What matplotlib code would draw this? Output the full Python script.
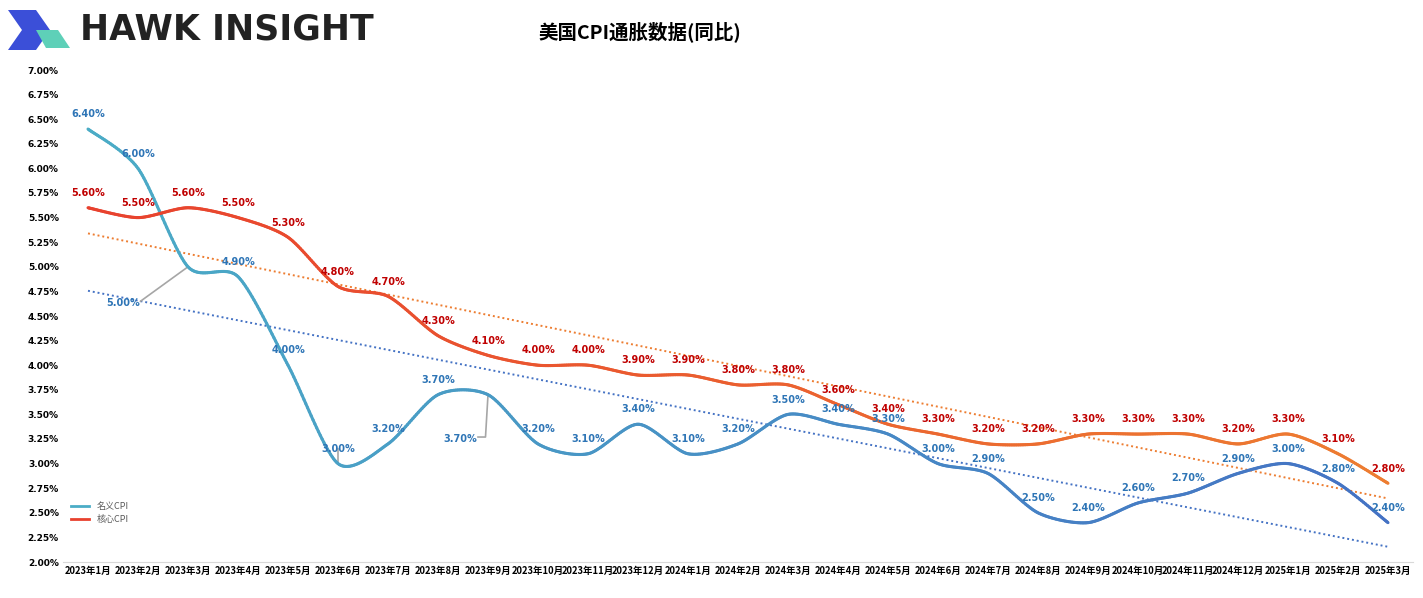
import numpy as np
import matplotlib
matplotlib.use("Agg")
import matplotlib.pyplot as plt
from matplotlib.collections import LineCollection
from matplotlib.patches import Polygon
from matplotlib.lines import Line2D
from matplotlib import font_manager as fm

cjk = None
for f in fm.findSystemFonts():
    if 'CJK' in f:
        cjk = f
        if 'Bold' in f:
            break
if cjk:
    fm.fontManager.addfont(cjk)
    cjkname = fm.FontProperties(fname=cjk).get_name()
    plt.rcParams['font.family'] = [cjkname, 'DejaVu Sans']

months = ["2023年1月","2023年2月","2023年3月","2023年4月","2023年5月","2023年6月","2023年7月","2023年8月","2023年9月",
          "2023年10月","2023年11月","2023年12月","2024年1月","2024年2月","2024年3月","2024年4月","2024年5月","2024年6月",
          "2024年7月","2024年8月","2024年9月","2024年10月","2024年11月","2024年12月","2025年1月","2025年2月","2025年3月"]
headline = [6.4,6.0,5.0,4.9,4.0,3.0,3.2,3.7,3.7,3.2,3.1,3.4,3.1,3.2,3.5,3.4,3.3,3.0,2.9,2.5,2.4,2.6,2.7,2.9,3.0,2.8,2.4]
core = [5.6,5.5,5.6,5.5,5.3,4.8,4.7,4.3,4.1,4.0,4.0,3.9,3.9,3.8,3.8,3.6,3.4,3.3,3.2,3.2,3.3,3.3,3.3,3.2,3.3,3.1,2.8]

def smooth(y, n=30, tens=0.4):
    y = np.asarray(y, float); x = np.arange(len(y), dtype=float)
    P = np.column_stack([x, y])
    P = np.vstack([P[0], P, P[-1]])
    out = []
    for i in range(1, len(P)-2):
        p0,p1,p2,p3 = P[i-1],P[i],P[i+1],P[i+2]
        m1 = (p2-p0)*tens; m2 = (p3-p1)*tens
        for s in np.linspace(0,1,n,endpoint=False):
            h00=2*s**3-3*s**2+1; h10=s**3-2*s**2+s; h01=-2*s**3+3*s**2; h11=s**3-s**2
            out.append(h00*p1+h10*m1+h01*p2+h11*m2)
    out.append(P[-2])
    return np.array(out)

def grad_line(ax, y, c1, c2, lw=2.2):
    pts = smooth(y)
    segs = np.stack([pts[:-1], pts[1:]], axis=1)
    c1 = np.array(matplotlib.colors.to_rgb(c1)); c2 = np.array(matplotlib.colors.to_rgb(c2))
    f = np.linspace(0,1,len(segs))[:,None]
    cols = c1*(1-f)+c2*f
    ax.add_collection(LineCollection(segs, colors=cols, linewidth=lw, capstyle='round', zorder=3))

fig = plt.figure(figsize=(14.23,5.98), dpi=100)
ax = fig.add_axes([63/1423, 1-562/598, 1350/1423, 492/598])
x = np.arange(len(months))
grad_line(ax, headline, '#4BACC6', '#4472C4')
grad_line(ax, core, '#E8412E', '#ED7D31')
for y, c in [(headline,'#4472C4'),(core,'#ED7D31')]:
    k,b = np.polyfit(x, y, 1)
    ax.plot(x, k*x+b, ls=(0,(1,1.5)), color=c, lw=1.4, zorder=2)

ax.set_xlim(-0.5, 26.5); ax.set_ylim(2.0, 7.0)
yt = np.arange(2.0,7.01,0.25)
ax.set_yticks(yt)
ax.set_yticklabels([f"{v:.2f}%" for v in yt], fontsize=6.5, fontweight='bold', family='DejaVu Sans')
ax.set_xticks(x); ax.set_xticklabels(months, fontsize=6.8, fontweight='bold')
ax.tick_params(length=0, pad=3)
for s in ['top','right','left']: ax.spines[s].set_visible(False)
ax.spines['bottom'].set_color('#d9d9d9')

hoff = {2:(-1.3,-0.37), 8:(-0.55,-0.45)}
for i,v in enumerate(headline):
    dx,dy = hoff.get(i,(0,0.15))
    ax.text(i+dx, v+dy, f"{v:.2f}%", color='#2E75B6', fontsize=7, fontweight='bold', ha='center', va='center', zorder=5, family='DejaVu Sans')
ax.plot([2,1.05],[5.0,4.65], color='#a6a6a6', lw=1.2)
ax.plot([8.0,7.95,7.8],[3.7,3.27,3.27], color='#a6a6a6', lw=1.2)
ax.plot([5,5],[3.0,3.15], color='#a6a6a6', lw=1.2)
for i,v in enumerate(core):
    ax.text(i, v+0.15, f"{v:.2f}%", color='#C00000', fontsize=7, fontweight='bold', ha='center', va='center', zorder=5, family='DejaVu Sans')

h = [Line2D([],[],color='#4BACC6',lw=2), Line2D([],[],color='#E8412E',lw=2)]
ax.legend(h, ['名义CPI','核心CPI'], loc='lower left', bbox_to_anchor=(0.0,0.06), frameon=False,
          fontsize=6.5, handlelength=2, labelcolor='#595959')

H = 598
fig.patches.append(Polygon([[8,H-10],[36,H-10],[50,H-30],[36,H-50],[8,H-50],[22,H-30]], closed=True, transform=None,
                           facecolor='#3b4fd8', figure=fig))
fig.patches.append(Polygon([[36,H-30],[58,H-30],[70,H-48],[46,H-48]], closed=True, transform=None, facecolor='#5ed0b8', figure=fig))
fig.text(80/1423, 1-30/598, "HAWK INSIGHT", fontsize=25, fontweight='bold', color='#222222', va='center', family='DejaVu Sans')
fig.text(640/1423, 1-32/598, "美国CPI通胀数据(同比)", fontsize=14, fontweight='bold', ha='center', va='center')
fig.savefig("out.png", dpi=100)
